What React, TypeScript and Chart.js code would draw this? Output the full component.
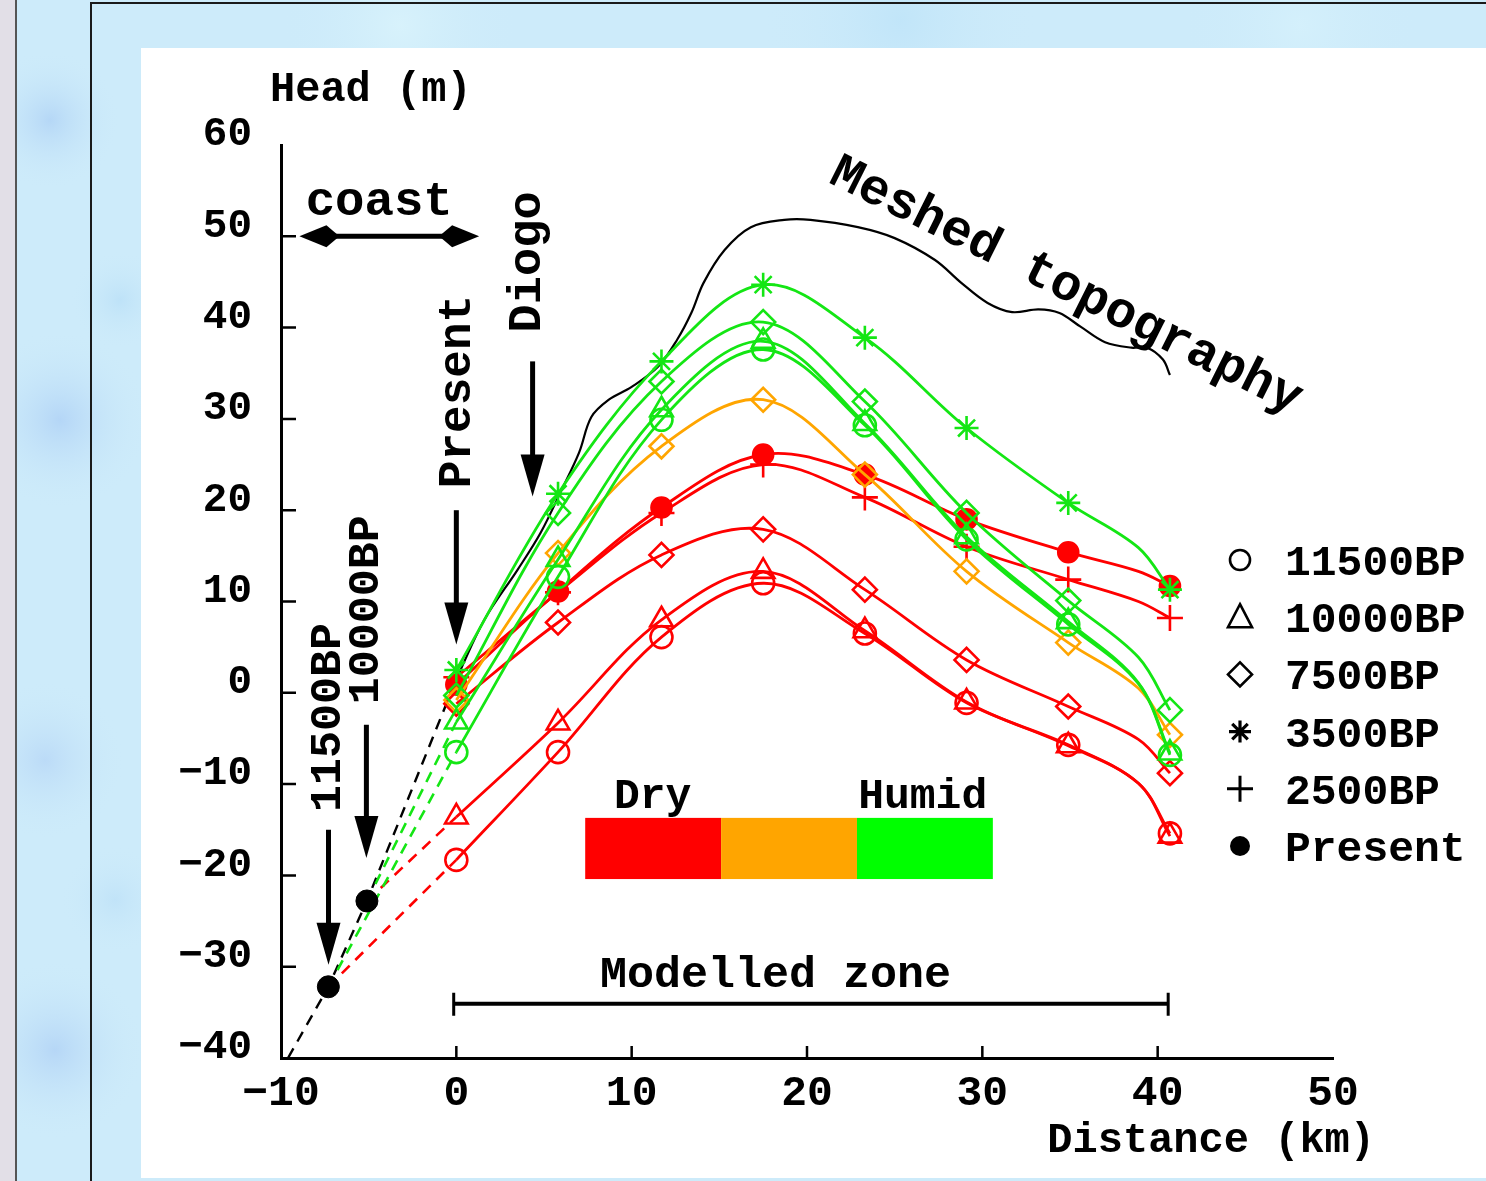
import React, { useEffect, useRef } from "react";
import { Chart, registerables } from "chart.js";

Chart.register(...registerables);

const W = 1486;
const H = 1181;
const FONT = "'Liberation Mono', 'Courier New', monospace";

// ---------- data ----------
const NODE_DIST = [0, 5.8, 11.7, 17.5, 23.3, 29.1, 34.9, 38.9, 40.7];
const NODE_MARKED = [true, true, true, true, true, true, true, false, true];

const GREEN_3500 = [2.5, 21.8, 36.3, 44.7, 38.9, 29.0, 20.8, 15.9, 11.3];
const GREEN_7500 = [-0.3, 19.7, 34.1, 40.6, 31.9, 19.7, 10.1, 3.9, -1.9];
const GREEN_10000 = [-3.2, 14.6, 31.0, 38.5, 29.5, 17.1, 7.8, 1.1, -6.6];
const GREEN_11500 = [-6.5, 12.7, 29.9, 37.6, 29.3, 16.8, 7.5, 1.0, -6.8];
const ORANGE_7500 = [-0.8, 15.3, 27.0, 32.1, 23.9, 13.3, 5.5, 0.5, -4.6];
const RED_PRESENT = [0.9, 11.1, 20.3, 26.1, 23.9, 19.0, 15.4, 13.3, 11.7];
const RED_2500 = [1.7, 11.0, 19.7, 25.0, 21.4, 16.0, 12.4, 10.0, 8.2];
const RED_7500 = [-1.2, 7.7, 15.1, 17.9, 11.3, 3.6, -1.5, -5.1, -8.8];
const RED_10000 = [-13.6, -3.3, 8.0, 13.3, 6.8, -1.0, -5.8, -9.9, -15.7];
const RED_11500 = [-18.3, -6.5, 6.1, 12.0, 6.5, -1.1, -5.7, -9.9, -15.4];

// meshed topography
const TOPO_DIST = [0, 1.6, 3.5, 4.8, 6.0, 7.0, 7.7, 8.7, 10.0, 11.5, 12.6, 13.4, 14.1, 15.3, 16.8, 18.7, 20.2, 22.9, 25.0, 27.3, 28.8, 30.3, 31.7, 33.2, 34.4, 35.6, 37.0, 38.5, 39.4, 40.3, 40.7];
const TOPO_HEAD = [1.5, 8.0, 13.5, 17.5, 22.2, 26.3, 30.2, 32.1, 33.5, 35.7, 38.7, 41.6, 44.9, 48.5, 51.0, 51.8, 51.8, 51.0, 49.8, 47.4, 44.9, 42.7, 41.7, 42.0, 41.6, 40.1, 38.4, 37.8, 37.8, 36.5, 34.8];

// palaeo-coast positions (11500BP, 10000BP)
const COAST_DIST = [-7.3, -5.1];
const COAST_HEAD = [-32.2, -22.8];
// extrapolated sea-floor profile (dashed black)
const SHELF_DIST = [-9.6, -7.3, -5.1, 0];
const SHELF_HEAD = [-40, -32.2, -22.8, 1.5];

const X_TICKS = [-10, 0, 10, 20, 30, 40, 50];
const Y_TICKS = [-40, -30, -20, -10, 0, 10, 20, 30, 40, 50, 60];

const LEGEND_LABELS = ["11500BP", "10000BP", "7500BP", "3500BP", "2500BP", "Present"];
const LEGEND_MARKERS = ["circle", "triangle", "diamond", "star", "plus", "dot"];

// ---------- styles ----------
const DRY = "#ff0000";
const MID = "#ffa500";
const HUMID = "#14e614";
const HUMID_BAR = "#00ff00";

const MODEL_SERIES = [
  { label: "3500BP humid", head: GREEN_3500, color: HUMID, marker: "star" },
  { label: "7500BP humid", head: GREEN_7500, color: HUMID, marker: "diamond" },
  { label: "10000BP humid", head: GREEN_10000, color: HUMID, marker: "triangle" },
  { label: "11500BP humid", head: GREEN_11500, color: HUMID, marker: "circle" },
  { label: "7500BP intermediate", head: ORANGE_7500, color: MID, marker: "diamond" },
  { label: "Present dry", head: RED_PRESENT, color: DRY, marker: "dot" },
  { label: "2500BP dry", head: RED_2500, color: DRY, marker: "plus" },
  { label: "7500BP dry", head: RED_7500, color: DRY, marker: "diamond" },
  { label: "10000BP dry", head: RED_10000, color: DRY, marker: "triangle" },
  { label: "11500BP dry", head: RED_11500, color: DRY, marker: "circle" },
];

const MARKER_STYLE: Record<string, { style: string; r: number; fill: boolean }> = {
  circle: { style: "circle", r: 11, fill: false },
  triangle: { style: "triangle", r: 13, fill: false },
  diamond: { style: "rectRot", r: 12, fill: false },
  star: { style: "star", r: 12, fill: false },
  plus: { style: "cross", r: 13, fill: false },
  dot: { style: "circle", r: 10, fill: true },
};

const fmt = (v: number) => (v < 0 ? "\u2212" + Math.abs(v) : String(v));
const font = (size: number) => `bold ${size}px ${FONT}`;

function buildDatasets() {
  const ds: any[] = [];
  ds.push({
    label: "coast",
    data: COAST_DIST.map((x, i) => ({ x, y: COAST_HEAD[i] })),
    showLine: false,
    pointRadius: 11,
    pointBackgroundColor: "#000",
    pointBorderColor: "#000",
    pointBorderWidth: 1,
  });
  MODEL_SERIES.forEach((s) => {
    const m = MARKER_STYLE[s.marker];
    ds.push({
      label: s.label,
      data: s.head.map((y, i) => ({ x: NODE_DIST[i], y })),
      borderColor: s.color,
      borderWidth: 2.8,
      tension: 0.35,
      fill: false,
      pointStyle: m.style,
      pointRadius: (ctx: any) => (NODE_MARKED[ctx.dataIndex] ? m.r : 0),
      pointBorderColor: s.color,
      pointBackgroundColor: m.fill ? s.color : "rgba(0,0,0,0)",
      pointBorderWidth: 2.6,
    });
  });
  ds.push({
    label: "Meshed topography",
    data: TOPO_DIST.map((x, i) => ({ x, y: TOPO_HEAD[i] })),
    borderColor: "#000",
    borderWidth: 2.2,
    tension: 0.35,
    pointRadius: 0,
  });
  const dashed = (color: string, from: number, headAtZero: number) => ({
    label: "ext",
    data: [
      { x: COAST_DIST[from], y: COAST_HEAD[from] },
      { x: 0, y: headAtZero },
    ],
    borderColor: color,
    borderWidth: 2.6,
    borderDash: [11, 8],
    pointRadius: 0,
    tension: 0,
  });
  ds.push(dashed(HUMID, 0, GREEN_11500[0]));
  ds.push(dashed(HUMID, 1, GREEN_10000[0]));
  ds.push(dashed(DRY, 0, RED_11500[0]));
  ds.push(dashed(DRY, 1, RED_10000[0]));
  ds.push({
    label: "shelf",
    data: SHELF_DIST.map((x, i) => ({ x, y: SHELF_HEAD[i] })),
    borderColor: "#000",
    borderWidth: 2.4,
    borderDash: [11, 8],
    pointRadius: 0,
    tension: 0,
  });
  return ds;
}

// ---------- drawing helpers ----------
function arrowDown(c: CanvasRenderingContext2D, x: number, y0: number, y1: number) {
  const hl = 42, hw = 12;
  c.lineWidth = 5;
  c.beginPath();
  c.moveTo(x, y0);
  c.lineTo(x, y1 - hl + 4);
  c.stroke();
  c.beginPath();
  c.moveTo(x, y1);
  c.lineTo(x - hw, y1 - hl);
  c.lineTo(x + hw, y1 - hl);
  c.closePath();
  c.fill();
}

function kite(c: CanvasRenderingContext2D, tip: number, y: number, dir: number) {
  c.beginPath();
  c.moveTo(tip, y);
  c.lineTo(tip + dir * 27, y - 11);
  c.lineTo(tip + dir * 40, y);
  c.lineTo(tip + dir * 27, y + 11);
  c.closePath();
  c.fill();
}

function vText(c: CanvasRenderingContext2D, t: string, x: number, y: number, size: number) {
  c.save();
  c.translate(x, y);
  c.rotate(-Math.PI / 2);
  c.font = font(size);
  c.textAlign = "center";
  c.textBaseline = "middle";
  c.fillText(t, 0, 0);
  c.restore();
}

function drawMarker(c: CanvasRenderingContext2D, kind: string, x: number, y: number) {
  c.lineWidth = 2.6;
  c.beginPath();
  switch (kind) {
    case "circle":
      c.arc(x, y, 10, 0, Math.PI * 2);
      c.stroke();
      break;
    case "dot":
      c.arc(x, y, 10, 0, Math.PI * 2);
      c.fill();
      break;
    case "triangle":
      c.moveTo(x, y - 13);
      c.lineTo(x + 12, y + 10);
      c.lineTo(x - 12, y + 10);
      c.closePath();
      c.stroke();
      break;
    case "diamond":
      c.moveTo(x - 12, y);
      c.lineTo(x, y - 12);
      c.lineTo(x + 12, y);
      c.lineTo(x, y + 12);
      c.closePath();
      c.stroke();
      break;
    case "star": {
      c.lineWidth = 3.2;
      const r = 11;
      for (let k = 0; k < 4; k++) {
        const a = (k * Math.PI) / 4;
        c.moveTo(x - Math.sin(a) * r, y - Math.cos(a) * r);
        c.lineTo(x + Math.sin(a) * r, y + Math.cos(a) * r);
      }
      c.stroke();
      break;
    }
    case "plus":
      c.lineWidth = 3;
      c.moveTo(x - 13, y);
      c.lineTo(x + 13, y);
      c.moveTo(x, y - 13);
      c.lineTo(x, y + 13);
      c.stroke();
      break;
  }
}

const backgroundPlugin = {
  id: "pageBackground",
  beforeDraw(chart: any) {
    const c: CanvasRenderingContext2D = chart.ctx;
    c.save();
    c.fillStyle = "#cdebfa";
    c.fillRect(0, 0, W, H);
    const blobs: [number, number, number, string][] = [
      [50, 120, 70, "rgba(175,210,245,0.8)"],
      [60, 420, 90, "rgba(170,205,245,0.7)"],
      [45, 760, 80, "rgba(180,212,246,0.7)"],
      [55, 1050, 90, "rgba(172,206,245,0.7)"],
      [120, 300, 50, "rgba(180,220,246,0.6)"],
      [115, 900, 55, "rgba(185,222,247,0.6)"],
      [400, 25, 120, "rgba(220,245,252,0.7)"],
      [900, 20, 140, "rgba(185,225,248,0.6)"],
      [1300, 25, 120, "rgba(215,242,252,0.7)"],
    ];
    blobs.forEach(([x, y, r, col]) => {
      const g = c.createRadialGradient(x, y, 0, x, y, r);
      g.addColorStop(0, col);
      g.addColorStop(1, "rgba(205,235,250,0)");
      c.fillStyle = g;
      c.fillRect(x - r, y - r, 2 * r, 2 * r);
    });
    c.fillStyle = "#e2dfe7";
    c.fillRect(0, 0, 15, H);
    c.fillStyle = "#555";
    c.fillRect(15, 0, 2, H);
    c.fillStyle = "#1a1a1a";
    c.fillRect(90, 3, 2, H);
    c.fillRect(90, 2, W - 90, 2);
    c.fillStyle = "#ffffff";
    c.fillRect(141, 48, W - 141, 1178 - 48);
    c.restore();
  },
};

const annotationPlugin = {
  id: "figureAnnotations",
  afterDraw(chart: any) {
    const c: CanvasRenderingContext2D = chart.ctx;
    const xs = chart.scales.x;
    const ys = chart.scales.y;
    const px = (v: number) => xs.getPixelForValue(v);
    const py = (v: number) => ys.getPixelForValue(v);
    const area = chart.chartArea;
    c.save();
    c.fillStyle = "#000";
    c.strokeStyle = "#000";

    // inward tick marks
    c.lineWidth = 2.5;
    c.beginPath();
    Y_TICKS.filter((v) => v > -40 && v < 60).forEach((v) => {
      c.moveTo(area.left, py(v));
      c.lineTo(area.left + 15, py(v));
    });
    X_TICKS.filter((v) => v > -10 && v < 50).forEach((v) => {
      c.moveTo(px(v), area.bottom);
      c.lineTo(px(v), area.bottom - 12);
    });
    c.stroke();

    // axis titles
    c.font = font(42);
    c.textBaseline = "alphabetic";
    c.textAlign = "left";
    c.fillText("Head (m)", area.left - 11, area.top - 44);
    c.textAlign = "right";
    c.fillText("Distance (km)", area.right + 42, area.bottom + 94);

    // coast double arrow
    const cy = py(50);
    const cx0 = px(-8.95), cx1 = px(1.3);
    c.lineWidth = 5;
    c.beginPath();
    c.moveTo(cx0 + 30, cy);
    c.lineTo(cx1 - 30, cy);
    c.stroke();
    kite(c, cx0, cy, 1);
    kite(c, cx1, cy, -1);
    c.font = font(49);
    c.textAlign = "center";
    c.fillText("coast", px(-4.4), py(52.3));

    // vertical labels with arrows
    vText(c, "Present", px(0.1), py(33.0), 46);
    arrowDown(c, px(0), py(20), py(5.3));
    vText(c, "Diogo", px(4.1), py(47.2), 47);
    arrowDown(c, px(4.35), py(36.3), py(21.5));
    vText(c, "10000BP", px(-5.13), py(9.1), 45);
    arrowDown(c, px(-5.13), py(-3.5), py(-18.1));
    vText(c, "11500BP", px(-7.29), py(-2.7), 45);
    arrowDown(c, px(-7.29), py(-15), py(-29.8));

    // meshed topography label
    c.save();
    c.translate(1060, 298);
    c.rotate((26.5 * Math.PI) / 180);
    c.font = font(51);
    c.textAlign = "center";
    c.textBaseline = "alphabetic";
    c.fillText("Meshed topography", 0, 0);
    c.restore();

    // dry-humid colour bar
    const bx = [7.35, 15.1, 22.85, 30.6].map(px);
    const by0 = py(-13.7), by1 = py(-20.4);
    [DRY, MID, HUMID_BAR].forEach((col, i) => {
      c.fillStyle = col;
      c.fillRect(bx[i], by0, bx[i + 1] - bx[i], by1 - by0);
    });
    c.fillStyle = "#000";
    c.font = font(43);
    c.textAlign = "center";
    c.fillText("Dry", px(11.2), py(-12.6));
    c.fillText("Humid", px(26.6), py(-12.6));

    // modelled zone
    const mz = py(-34.06);
    c.lineWidth = 4;
    c.beginPath();
    c.moveTo(px(-0.15), mz);
    c.lineTo(px(40.6), mz);
    c.stroke();
    c.lineWidth = 3;
    c.beginPath();
    c.moveTo(px(-0.15), mz - 11);
    c.lineTo(px(-0.15), mz + 12);
    c.moveTo(px(40.6), mz - 11);
    c.lineTo(px(40.6), mz + 12);
    c.stroke();
    c.font = font(45);
    c.fillText("Modelled zone", px(18.2), py(-32.2));

    // legend
    c.textAlign = "left";
    c.font = font(43);
    LEGEND_LABELS.forEach((lab, i) => {
      const base = 575 + i * 57.2;
      drawMarker(c, LEGEND_MARKERS[i], 1240, base - 15);
      c.fillText(lab, 1285, base);
    });
    c.restore();
  },
};

export default function App() {
  const ref = useRef<HTMLCanvasElement>(null);
  useEffect(() => {
    if (!ref.current) return;
    const tickFont = { family: FONT, size: 41, weight: "bold" as const };
    const chart = new Chart(ref.current, {
      type: "line",
      data: { datasets: buildDatasets() },
      plugins: [backgroundPlugin, annotationPlugin],
      options: {
        animation: false,
        responsive: false,
        maintainAspectRatio: false,
        layout: { padding: { top: 145, right: W - 1333, left: 0, bottom: 0 } },
        plugins: { legend: { display: false }, tooltip: { enabled: false } },
        scales: {
          x: {
            type: "linear",
            min: -10,
            max: 50,
            afterBuildTicks: (s: any) => {
              s.ticks = X_TICKS.map((v) => ({ value: v }));
            },
            afterFit: (s: any) => {
              s.height = H - 1058;
            },
            ticks: {
              autoSkip: false,
              maxRotation: 0,
              padding: 10,
              color: "#000",
              font: { ...tickFont, size: 43 },
              callback: (v: any) => fmt(Number(v)),
            },
            grid: { display: false, drawTicks: false },
            border: { display: true, color: "#000", width: 3 },
          },
          y: {
            type: "linear",
            min: -40,
            max: 60,
            afterBuildTicks: (s: any) => {
              s.ticks = Y_TICKS.map((v) => ({ value: v }));
            },
            afterFit: (s: any) => {
              s.width = 281;
            },
            ticks: {
              autoSkip: false,
              padding: 29,
              labelOffset: -10,
              color: "#000",
              font: tickFont,
              callback: (v: any) => fmt(Number(v)),
            },
            grid: { display: false, drawTicks: false },
            border: { display: true, color: "#000", width: 3 },
          },
        },
      } as any,
    });
    return () => chart.destroy();
  }, []);
  return (
    <div style={{ position: "absolute", left: 0, top: 0, width: W, height: H }}>
      <canvas ref={ref} width={W} height={H} style={{ display: "block", width: W, height: H }} />
    </div>
  );
}
